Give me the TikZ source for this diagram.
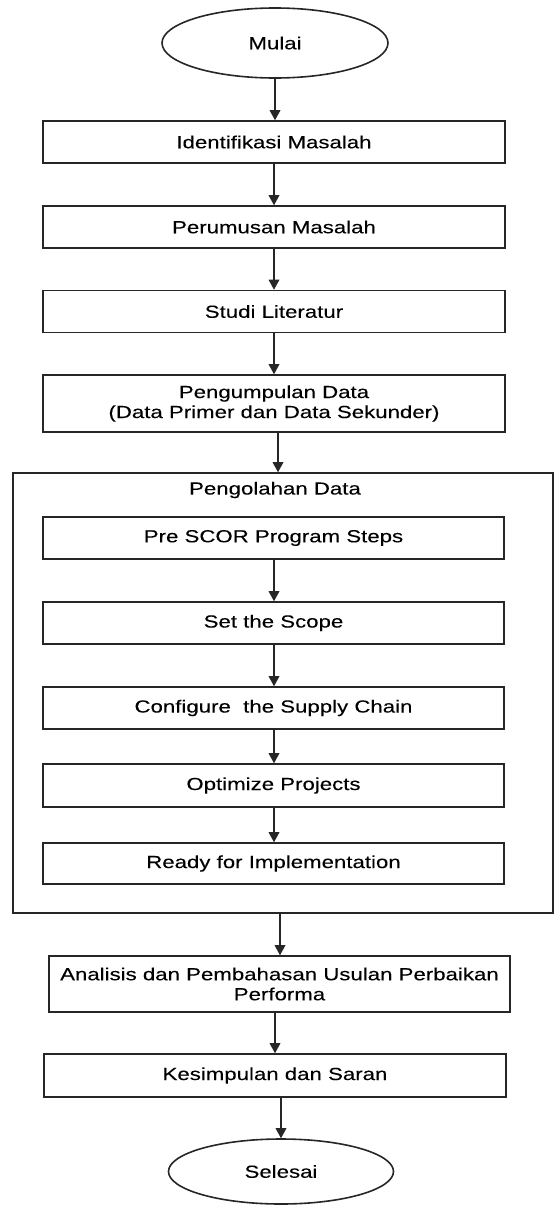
\documentclass[tikz,border=0pt]{standalone}
\usepackage{fontspec}
\setmainfont{Liberation Sans}[FakeStretch=1.27,FakeBold=0.12]
\usetikzlibrary{shapes.geometric,calc}
\newcommand{\flowto}[4]{%
  \path ($(#1.south)+(#3pt,0pt)$) coordinate (#4);
  \draw[conn] (#4) -- (#4 |- #2.north);
  \fill[tipfill] (#4 |- #2.north) -- ++(-5.5pt,10pt) -- ++(11pt,0pt) -- cycle;}
\begin{document}
\begin{tikzpicture}[
  every node/.style={font=\fontsize{17.5}{20}\selectfont},
  stepbox/.style={draw=black!85,line width=1.6pt,rectangle,minimum width=462pt,minimum height=42pt,inner sep=0pt,align=center},
  termbox/.style={draw=black!85,line width=1.6pt,ellipse,minimum width=226pt,minimum height=70pt,inner sep=0pt},
  groupbox/.style={draw=black!85,line width=1.6pt,rectangle,minimum width=540pt,minimum height=440pt,inner sep=0pt},
  conn/.style={draw=black!85,line width=1.6pt,shorten >=6pt},
  tipfill/.style={fill=black!85}]
\useasboundingbox (0pt,0pt) rectangle (556pt,-1205pt);
\node[termbox] (mulai) at (275pt,-43pt) {Mulai};
\node[stepbox] (ident) at (274pt,-142pt) {Identifikasi Masalah};
\node[stepbox] (perum) at (274pt,-227pt) {Perumusan Masalah};
\node[stepbox] (studi) at (274pt,-311.5pt) {Studi Literatur};
\node[stepbox,minimum height=57pt] (pengum) at (274pt,-403.5pt) {Pengumpulan Data\\(Data Primer dan Data Sekunder)};
\node[groupbox] (outer) at (283pt,-693pt) {};
\node (title) at (275pt,-490pt) {Pengolahan Data};
\node[stepbox,minimum width=461pt] (pre) at (273.5pt,-538pt) {Pre SCOR Program Steps};
\node[stepbox,minimum width=461pt] (scope) at (273.5pt,-623pt) {Set the Scope};
\node[stepbox,minimum width=461pt] (config) at (273.5pt,-708pt) {Configure\ \ the Supply Chain};
\node[stepbox,minimum width=461pt,minimum height=43pt] (optim) at (273.5pt,-785.5pt) {Optimize Projects};
\node[stepbox,minimum width=461pt,minimum height=41pt] (ready) at (273.5pt,-863.5pt) {Ready for Implementation};
\node[stepbox,minimum width=461pt,minimum height=56pt] (anal) at (279.5pt,-984pt) {Analisis dan Pembahasan Usulan Perbaikan\\Performa};
\node[stepbox,minimum width=462pt,minimum height=43pt] (kesim) at (275pt,-1075.5pt) {Kesimpulan dan Saran};
\node[termbox,minimum width=225pt,minimum height=65pt] (selesai) at (281pt,-1171.5pt) {Selesai};
\flowto{mulai}{ident}{0}{c1}
\flowto{ident}{perum}{0}{c2}
\flowto{perum}{studi}{0}{c3}
\flowto{studi}{pengum}{0}{c4}
\flowto{pengum}{outer}{4}{c5}
\flowto{pre}{scope}{0.5}{c6}
\flowto{scope}{config}{0.5}{c7}
\flowto{config}{optim}{0.5}{c8}
\flowto{optim}{ready}{0.5}{c9}
\flowto{outer}{anal}{-3}{c10}
\flowto{anal}{kesim}{-4.5}{c11}
\flowto{kesim}{selesai}{6}{c12}
\end{tikzpicture}
\end{document}
